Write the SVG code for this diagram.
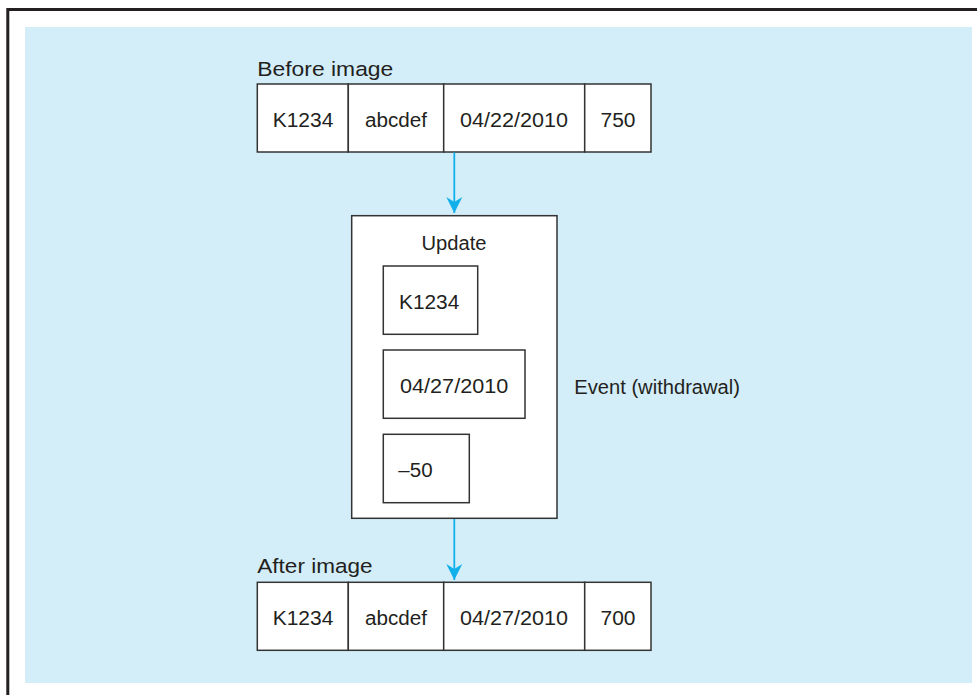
<svg xmlns="http://www.w3.org/2000/svg" width="977" height="695" viewBox="0 0 977 695">
<style>
text{font-family:"Liberation Sans",Arial,sans-serif;font-size:19.5px;fill:#231f20}
.lbl{font-size:20.5px}
.cell{fill:#fff;stroke:#333;stroke-width:1.5}
.c{text-anchor:middle}
.conn{stroke:#12b0ea;stroke-width:1.8;fill:none}
</style>
<defs>
<marker id="ah" markerUnits="userSpaceOnUse" markerWidth="18" markerHeight="18" viewBox="-17 -9 18 18" refX="0" refY="0" orient="auto">
<path d="M0,0 L-16,-8 L-11,0 L-16,8 Z" fill="#12b0ea"/>
</marker>
</defs>
<rect x="0" y="0" width="977" height="695" fill="#fff"/>
<path d="M7.8,695 V9.5 H977" fill="none" stroke="#231f20" stroke-width="3"/>
<rect x="25" y="27" width="947" height="656" fill="#d3edf9"/>
<g id="before">
<text class="lbl" x="257.3" y="76" textLength="136" lengthAdjust="spacingAndGlyphs">Before image</text>
<rect class="cell" x="257.3" y="84" width="91" height="68"/>
<rect class="cell" x="348.3" y="84" width="95.4" height="68"/>
<rect class="cell" x="443.7" y="84" width="141" height="68"/>
<rect class="cell" x="584.7" y="84" width="66.3" height="68"/>
<text class="c" x="303" y="127" textLength="60.7" lengthAdjust="spacingAndGlyphs">K1234</text>
<text class="c" x="396" y="127" textLength="62" lengthAdjust="spacingAndGlyphs">abcdef</text>
<text class="c" x="514" y="127" textLength="108" lengthAdjust="spacingAndGlyphs">04/22/2010</text>
<text class="c" x="618" y="127" textLength="35" lengthAdjust="spacingAndGlyphs">750</text>
</g>
<g id="update">
<rect class="cell" x="351.7" y="215.7" width="205.3" height="302.6"/>
<text class="c" x="454" y="250" textLength="65" lengthAdjust="spacingAndGlyphs">Update</text>
<rect class="cell" x="383.3" y="266" width="94.4" height="68.3"/>
<text x="399" y="309" textLength="60.3" lengthAdjust="spacingAndGlyphs">K1234</text>
<rect class="cell" x="383.3" y="350" width="141.7" height="68.3"/>
<text x="400" y="393.3" textLength="108.3" lengthAdjust="spacingAndGlyphs">04/27/2010</text>
<rect class="cell" x="383.3" y="434.3" width="86" height="68.4"/>
<text x="398.3" y="477.3" textLength="34.3" lengthAdjust="spacingAndGlyphs">–50</text>
</g>
<g id="event">
<text x="574.3" y="394" textLength="165.7" lengthAdjust="spacingAndGlyphs">Event (withdrawal)</text>
</g>
<g id="after">
<text class="lbl" x="257.3" y="573.3" textLength="115.3" lengthAdjust="spacingAndGlyphs">After image</text>
<rect class="cell" x="257.3" y="582.3" width="91" height="68"/>
<rect class="cell" x="348.3" y="582.3" width="95.4" height="68"/>
<rect class="cell" x="443.7" y="582.3" width="141" height="68"/>
<rect class="cell" x="584.7" y="582.3" width="66.3" height="68"/>
<text class="c" x="303" y="625" textLength="60.7" lengthAdjust="spacingAndGlyphs">K1234</text>
<text class="c" x="396" y="625" textLength="62" lengthAdjust="spacingAndGlyphs">abcdef</text>
<text class="c" x="514" y="625" textLength="108" lengthAdjust="spacingAndGlyphs">04/27/2010</text>
<text class="c" x="618" y="625" textLength="35" lengthAdjust="spacingAndGlyphs">700</text>
</g>
<g id="connectors">
<path class="conn" d="M454.3,152.5 V213" marker-end="url(#ah)"/>
<path class="conn" d="M454.3,519 V580" marker-end="url(#ah)"/>
</g>
</svg>
